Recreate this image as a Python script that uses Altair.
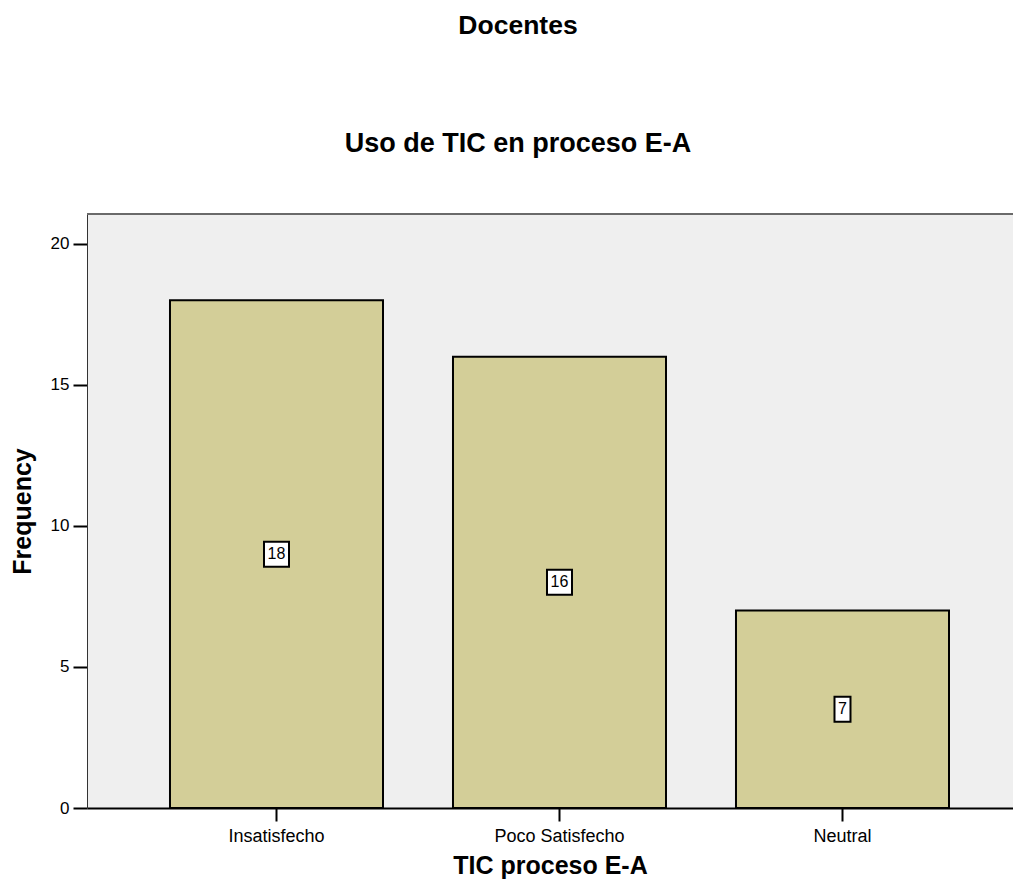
import altair as alt
import pandas as pd

categories = ["Insatisfecho", "Poco Satisfecho", "Neutral"]
counts = [18, 16, 7]
y_ticks = [0, 5, 10, 15, 20]

df = pd.DataFrame({"cat": categories, "freq": counts})

FONT = "Liberation Sans"
W = 926
H = 594

x_enc = alt.X(
    "cat:N",
    sort=categories,
    title="TIC proceso E-A",
    scale=alt.Scale(paddingInner=0.2473, paddingOuter=0.2597, align=0.5646),
    axis=alt.Axis(
        labelAngle=0, labelFontSize=18, labelFont=FONT, labelColor="black",
        labelPadding=6, tickSize=13, tickColor="black", tickWidth=2,
        domainColor="black", domainWidth=2,
        titleFont=FONT, titleFontSize=25, titleFontWeight="bold", titleColor="black",
        titlePadding=8.5,
    ),
)

y_scale = alt.Scale(domain=[0, 21.06], nice=False, zero=True)

bars = alt.Chart(df).mark_bar(
    fill="#D3CE98", stroke="black", strokeWidth=2
).encode(
    x=x_enc,
    y=alt.Y(
        "freq:Q",
        title="Frequency",
        scale=y_scale,
        axis=alt.Axis(
            values=y_ticks, grid=False, labelFontSize=17, labelFont=FONT,
            labelColor="black", labelPadding=4, tickSize=14, tickColor="black",
            tickWidth=2, domainColor="#333333", domainWidth=1,
            titleFont=FONT, titleFontSize=25, titleFontWeight="bold",
            titleColor="black", titlePadding=15,
        ),
    ),
)

top_border = alt.Chart(df).mark_rule(color="#6a6a6a", strokeWidth=2).encode(
    x=alt.value(0), x2=alt.value(W), y=alt.value(0)
)

boxes = alt.Chart(df).transform_calculate(
    half="datum.freq / 2",
    shp="datum.freq >= 10 ? 'M-1,-1H1V1H-1Z' : 'M-0.64,-1H0.64V1H-0.64Z'",
).mark_point(
    filled=True, fill="white", stroke="black", strokeWidth=2, size=625, opacity=1
).encode(
    x=alt.X("cat:N", sort=categories),
    y=alt.Y("half:Q", scale=y_scale),
    shape=alt.Shape("shp:N", scale=None),
)

labels = alt.Chart(df).transform_calculate(
    half="datum.freq / 2"
).mark_text(
    font=FONT, fontSize=16, color="black", baseline="middle", align="center"
).encode(
    x=alt.X("cat:N", sort=categories),
    y=alt.Y("half:Q", scale=y_scale),
    text="freq:Q",
)

chart = alt.layer(bars, top_border, boxes, labels).properties(
    width=W,
    height=H,
    title=alt.TitleParams(
        text="Docentes",
        subtitle="Uso de TIC en proceso E-A",
        anchor="middle",
        frame="group",
        dx=-32,
        font=FONT,
        fontSize=26.5,
        fontWeight="bold",
        color="black",
        subtitleFont=FONT,
        subtitleFontSize=27,
        subtitleFontWeight="bold",
        subtitleColor="black",
        subtitlePadding=92,
        offset=56,
    ),
    autosize=alt.AutoSizeParams(type="none"),
    padding={"left": 79, "top": 206, "right": 0, "bottom": 72},
).configure(background="white").configure_view(
    fill="#EFEFEF", stroke=None
)

chart.save("out.html", embed_options={"renderer": "svg", "actions": False})
